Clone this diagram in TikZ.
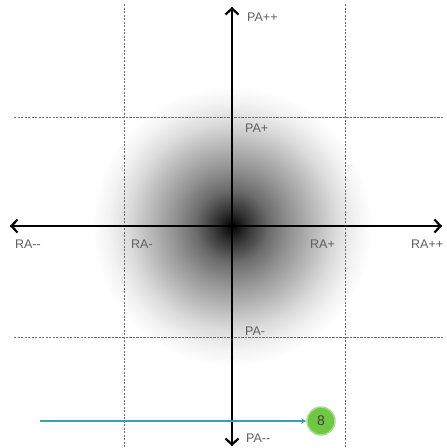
\documentclass[tikz,border=0pt]{standalone}
\usepackage{fontspec}
\setmainfont{Liberation Sans}
\usepackage{tikz}
\usetikzlibrary{arrows.meta,positioning,calc}

\definecolor{gridgray}{RGB}{110,110,110}
\definecolor{labelgray}{RGB}{95,95,95}
\definecolor{flowteal}{RGB}{52,160,184}
\definecolor{dotgreen}{RGB}{112,200,66}

\pgfdeclareradialshading{blob}{\pgfpoint{0bp}{0bp}}{%
  color(0bp)=(black); color(2.5bp)=(black!82); color(6.5bp)=(black!58);
  color(10.5bp)=(black!42); color(14.5bp)=(black!28); color(18.5bp)=(black!14);
  color(22bp)=(black!5); color(25bp)=(white); color(50bp)=(white)}

\begin{document}
\begin{tikzpicture}[
    x=1pt, y=-1pt,
    grid/.style={draw=gridgray, line width=0.8pt, dash pattern=on 2.2pt off 1.3pt},
    axis/.style={-{Straight Barb[length=6pt, width=13pt, line width=2.2pt]}, line width=2.4pt, black},
    lbl/.style={text=labelgray, font=\fontsize{12.5}{14}\selectfont, inner sep=0pt, anchor=west},
    flow/.style={-{Stealth[length=5pt, width=5pt]}, draw=flowteal, line width=1.2pt},
    badge/.style={circle, fill=dotgreen, draw=dotgreen!60, line width=1.5pt, minimum size=28pt, inner sep=0pt, font=\fontsize{14}{15}\selectfont, text=black!75}
]
    \useasboundingbox [fill=white] (0,0) rectangle (447,448);

    % soft blob round the origin
    \path [shading=blob] (232,226) circle (140);

    % quadrant grid
    \draw [grid] (124,4) -- (124,448);
    \draw [grid] (345,4) -- (345,448);
    \draw [grid] (14,117) -- (443,117);
    \draw [grid] (14,337) -- (443,337);

    % axes
    \coordinate (top) at (232,7);
    \coordinate (bottom) at (232,446);
    \coordinate (left) at (10,226);
    \coordinate (right) at (442,226);
    \draw [axis] (bottom) -- (top);
    \draw [axis] (top) -- (bottom);
    \draw [axis] (right) -- (left);
    \draw [axis] (left) -- (right);

    \node [lbl] (paPP) at (247,17) {PA++};
    \node [lbl] (paP) at (245,128) {PA+};
    \node [lbl] (paM) at (245,331) {PA-};
    \node [lbl] (paMM) at (246,438) {PA-{}-};
    \node [lbl] (raMM) at (15,244) {RA-{}-};
    \node [lbl] (raM) at (131,244) {RA-};
    \node [lbl] (raP) at (310,244) {RA+};
    \node [lbl] (raPP) at (411,244) {RA++};

    % sample point
    \node [badge] (eight) at (321,421) {8};
    \coordinate (start) at (40,421);
    \draw [flow] (start) -- (eight);
\end{tikzpicture}
\end{document}
